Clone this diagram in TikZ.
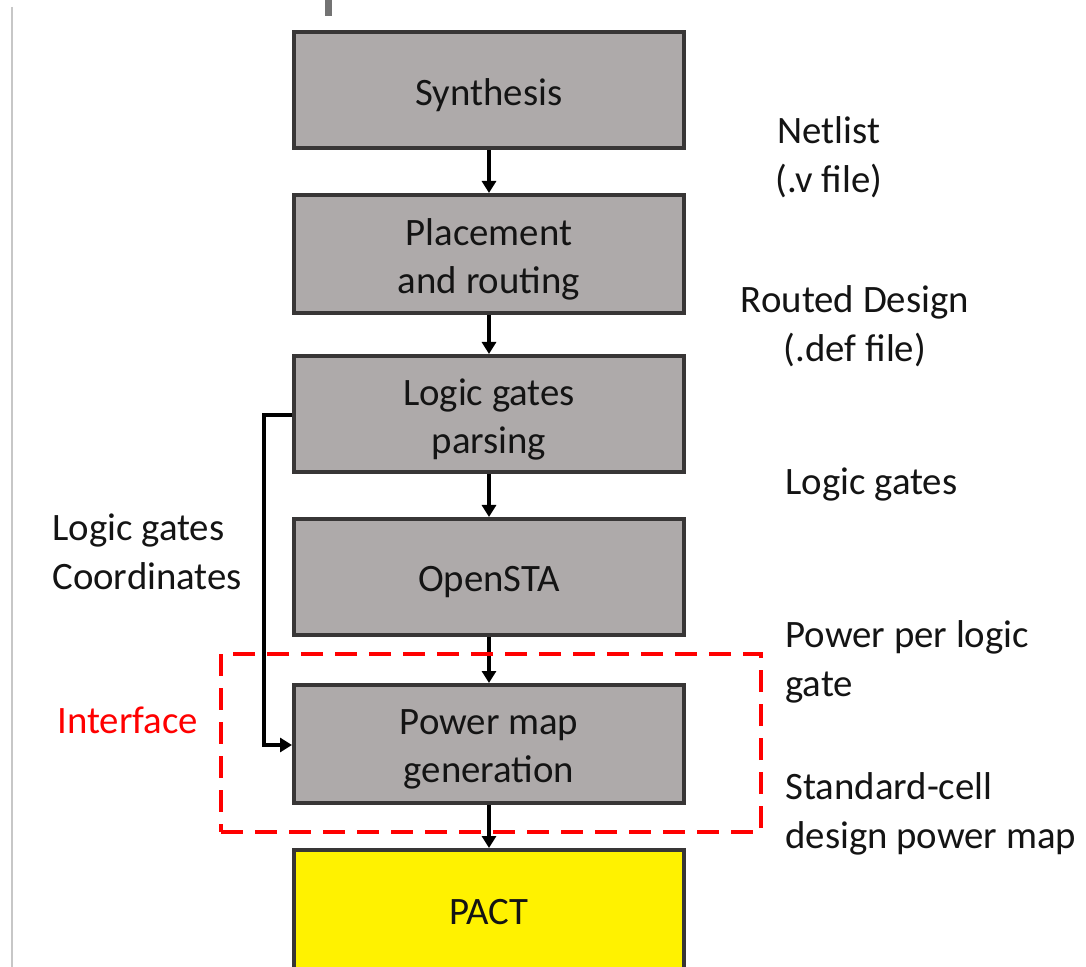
\documentclass[tikz,border=0pt]{standalone}
\usepackage{fontspec}
\setmainfont{Carlito}
\usetikzlibrary{arrows.meta}
\definecolor{boxfill}{HTML}{AEAAAA}
\definecolor{boxline}{HTML}{383636}
\definecolor{txt}{HTML}{141414}
\begin{document}
\begin{tikzpicture}[x=0.5pt,y=-0.5pt,
  stage/.style={draw=boxline,line width=2pt,fill=boxfill,minimum width=195pt,minimum height=58pt,inner sep=0pt},
  txtin/.style={align=center,font=\fontsize{19.4}{24}\selectfont,text=txt,inner sep=0pt,yshift=-2.5pt},
  flow/.style={line width=1.6pt,-{Triangle[length=6pt,width=7pt]}},
  lbl/.style={font=\fontsize{19.4}{24.5}\selectfont,text=txt,inner sep=0pt}]
\useasboundingbox (0,0) rectangle (1086,967);
\fill[white] (0,0) rectangle (1086,967);
\draw[line width=0.8pt,draw=black!22] (12,7) -- (12,967);
\fill[black!55] (325,0) rectangle (332,16);
\node[stage,label={[txtin]center:Synthesis}] (syn) at (489,90) {};
\node[stage,minimum height=59pt,label={[txtin]center:Placement\\and routing}] (pr) at (489,254) {};
\node[stage,label={[txtin]center:Logic gates\\parsing}] (lgp) at (489,414) {};
\node[stage,label={[txtin]center:OpenSTA}] (sta) at (489,577) {};
\node[stage,minimum height=59pt,label={[txtin]center:Power map\\generation}] (pm) at (489,744) {};
\node[stage,fill=yellow,minimum height=68pt,label={[txtin,yshift=5.5pt]center:PACT}] (pact) at (489,918) {};
\draw[flow] (syn) -- (pr);
\draw[flow] (pr) -- (lgp);
\draw[flow] (lgp) -- (sta);
\draw[flow] (sta) -- (pm);
\draw[flow] (pm) -- (pact);
\coordinate (c1) at (264,415);
\coordinate (c2) at (264,745);
\draw[flow] (lgp.west |- c1) -- (c1) -- (c2) -- (pm.west |- c2);
\node[draw=red,dash pattern=on 11pt off 6pt,line width=2pt,minimum width=270pt,minimum height=89pt,inner sep=0pt] (iface) at (491,743) {};
\node[lbl,align=center] (l1) at (829,157) {Netlist\\(.v file)};
\node[lbl,align=center] (l2) at (855,326) {Routed Design\\(.def file)};
\node[lbl,anchor=west] (l3) at (785,484) {Logic gates};
\node[lbl,anchor=west,align=left] (l4) at (785,662) {Power per logic\\gate};
\node[lbl,anchor=west,align=left] (l5) at (785,814) {Standard-cell\\design power map};
\node[lbl,anchor=west,align=left] (l6) at (52,552) {Logic gates\\Coordinates};
\node[lbl,anchor=west,text=red] (l7) at (57,720) {Interface};
\end{tikzpicture}
\end{document}
